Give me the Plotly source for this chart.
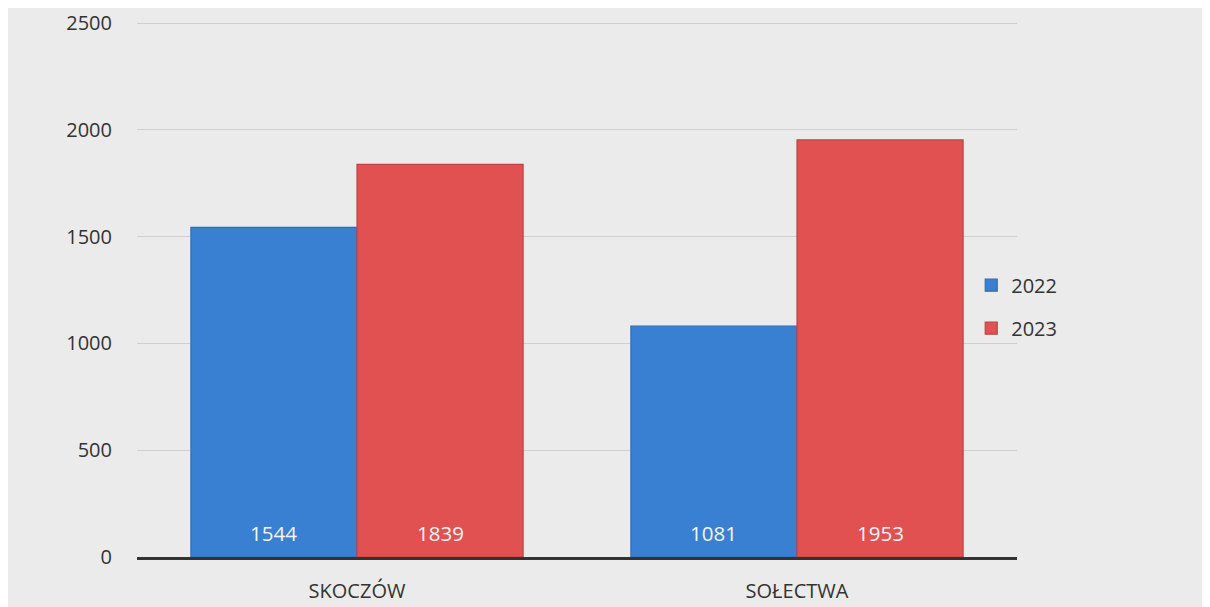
import plotly.graph_objects as go

# data
categories = ["SKOCZÓW", "SOŁECTWA"]
years = ["2022", "2023"]
values_2022 = [1544, 1081]
values_2023 = [1839, 1953]
y_ticks = [0, 500, 1000, 1500, 2000, 2500]

fill_colors = ["#3a80d2", "#e25151"]
line_colors = ["#2f6db8", "#c04343"]

W, H = 1202, 599          # page has an 8px body margin
ML, MR, MT, MB = 129, 193, 13, 50
BARGAP = 0.245

fig = go.Figure()
for i, (yr, vals) in enumerate(zip(years, [values_2022, values_2023])):
    fig.add_trace(go.Bar(
        x=categories, y=vals, name=yr, legendgroup=yr,
        marker=dict(color=fill_colors[i], line=dict(color=line_colors[i], width=1.2)),
    ))

# value labels near the bottom of each bar
cat_px = (W - ML - MR) / len(categories)
bar_px = cat_px * (1 - BARGAP) / len(years)
for i, vals in enumerate([values_2022, values_2023]):
    shift = (i - (len(years) - 1) / 2) * bar_px
    for c, v in zip(categories, vals):
        fig.add_annotation(x=c, y=0, text=str(v), showarrow=False, xshift=shift,
                           yshift=24, yanchor="middle",
                           font=dict(color="#f4f4f4", size=20.5, family="Open Sans"))

fig.update_layout(
    width=W, height=H,
    barmode="group", bargap=BARGAP, bargroupgap=0,
    paper_bgcolor="#ebebeb", plot_bgcolor="#ebebeb",
    margin=dict(l=ML, r=MR, t=MT, b=MB),
    font=dict(family="Open Sans", size=19, color="#333333"),
    legend=dict(x=0.948, y=0.467, yanchor="middle", xanchor="left",
                tracegroupgap=14, font=dict(size=20), bgcolor="rgba(0,0,0,0)"),
)
fig.update_yaxes(range=[0, 2510], tickvals=y_ticks, gridcolor="#cfcfcf", gridwidth=1,
                 zeroline=False, showline=False, ticklabelstandoff=24,
                 tickfont=dict(size=20), automargin=False)
fig.update_xaxes(showline=True, linecolor="#333333", linewidth=3,
                 ticks="", ticklabelstandoff=14, tickfont=dict(size=20),
                 automargin=False)

fig.write_html("out.html")
